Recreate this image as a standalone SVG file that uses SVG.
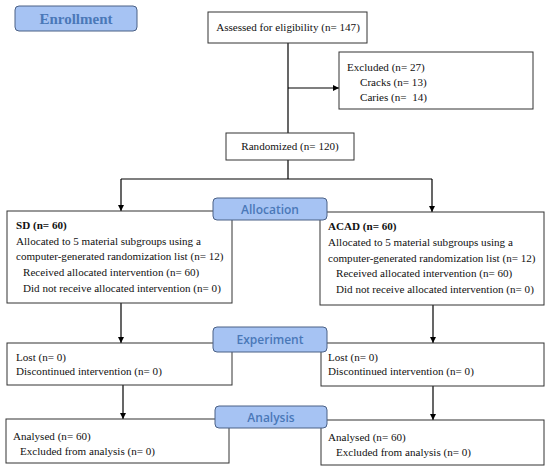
<svg xmlns="http://www.w3.org/2000/svg" width="550" height="468" viewBox="0 0 550 468">
<defs>
<marker id="ah" viewBox="0 0 10 10" refX="10" refY="5" markerWidth="6" markerHeight="6" markerUnits="userSpaceOnUse" orient="auto">
<path d="M0,0 L10,5 L0,10 z" fill="#000"/>
</marker>
<style>
.box{fill:#fff;stroke:#333;stroke-width:1}
.lab{fill:#a6c3f3;stroke:#4a6085;stroke-width:1}
.t{font-family:"Liberation Serif",serif;font-size:11.1px;fill:#111;white-space:pre}
.b{font-weight:bold}
.lt{font-family:"Open Sans","Liberation Sans",sans-serif;font-size:12px;font-weight:600;fill:#4a78b8;text-anchor:middle}
.le{font-family:"Liberation Serif",serif;font-size:15px;font-weight:bold;fill:#4a78b8;text-anchor:middle}
.c{stroke:#000;stroke-width:1.2;fill:none}
</style>
</defs>
<rect width="550" height="468" fill="#fff"/>
<g id="connectors">
<line class="c" x1="288" y1="43" x2="288" y2="133"/>
<line class="c" x1="288" y1="88" x2="339" y2="88" marker-end="url(#ah)"/>
<line class="c" x1="288" y1="160" x2="288" y2="179"/>
<line class="c" x1="121" y1="179" x2="432" y2="179"/>
<line class="c" x1="121" y1="179" x2="121" y2="211" marker-end="url(#ah)"/>
<line class="c" x1="432" y1="179" x2="432" y2="212" marker-end="url(#ah)"/>
<line class="c" x1="121" y1="303" x2="121" y2="343" marker-end="url(#ah)"/>
<line class="c" x1="433" y1="305" x2="433" y2="343" marker-end="url(#ah)"/>
<line class="c" x1="123" y1="385" x2="123" y2="419" marker-end="url(#ah)"/>
<line class="c" x1="433" y1="386" x2="433" y2="420" marker-end="url(#ah)"/>
</g>
<g id="enrollment">
<rect class="lab" x="15" y="6" width="122" height="25" rx="4"/>
<text class="le" x="76" y="24">Enrollment</text>
</g>
<g id="assessed">
<rect class="box" x="208" y="12" width="159" height="31"/>
<text class="t" x="288" y="31" text-anchor="middle">Assessed for eligibility (n= 147)</text>
</g>
<g id="excluded">
<rect class="box" x="339" y="52" width="194" height="57"/>
<text class="t" x="347" y="71">Excluded (n= 27)</text>
<text class="t" x="360" y="86">Cracks (n= 13)</text>
<text class="t" x="360" y="101">Caries (n=  14)</text>
</g>
<g id="randomized">
<rect class="box" x="226" y="133" width="128" height="27"/>
<text class="t" x="290" y="150" text-anchor="middle">Randomized (n= 120)</text>
</g>
<g id="sd">
<rect class="box" x="7" y="211" width="225" height="92"/>
<text class="t b" x="16" y="229">SD (n= 60)</text>
<text class="t" x="16" y="245">Allocated to 5 material subgroups using a</text>
<text class="t" x="16" y="260">computer-generated randomization list (n= 12)</text>
<text class="t" x="23" y="276">Received allocated intervention (n= 60)</text>
<text class="t" x="23" y="292">Did not receive allocated intervention (n= 0)</text>
</g>
<g id="acad">
<rect class="box" x="320" y="212" width="224" height="93"/>
<text class="t b" x="328" y="230">ACAD (n= 60)</text>
<text class="t" x="328" y="246">Allocated to 5 material subgroups using a</text>
<text class="t" x="328" y="262">computer-generated randomization list (n= 12)</text>
<text class="t" x="336" y="277">Received allocated intervention (n= 60)</text>
<text class="t" x="336" y="293">Did not receive allocated intervention (n= 0)</text>
</g>
<g id="allocation">
<rect class="lab" x="213" y="198" width="114" height="22" rx="4"/>
<text class="lt" x="270" y="214">Allocation</text>
</g>
<g id="lost-left">
<rect class="box" x="7" y="343" width="225" height="42"/>
<text class="t" x="16" y="361">Lost (n= 0)</text>
<text class="t" x="16" y="375">Discontinued intervention (n= 0)</text>
</g>
<g id="lost-right">
<rect class="box" x="321" y="343" width="223" height="43"/>
<text class="t" x="328" y="361">Lost (n= 0)</text>
<text class="t" x="328" y="375">Discontinued intervention (n= 0)</text>
</g>
<g id="experiment">
<rect class="lab" x="213" y="327" width="114" height="25" rx="4"/>
<text class="lt" x="270" y="344">Experiment</text>
</g>
<g id="analysed-left">
<rect class="box" x="6" y="419" width="223" height="44"/>
<text class="t" x="13" y="440">Analysed (n= 60)</text>
<text class="t" x="20" y="455">Excluded from analysis (n= 0)</text>
</g>
<g id="analysed-right">
<rect class="box" x="321" y="420" width="223" height="45"/>
<text class="t" x="328" y="441">Analysed (n= 60)</text>
<text class="t" x="336" y="456">Excluded from analysis (n= 0)</text>
</g>
<g id="analysis">
<rect class="lab" x="215" y="406" width="112" height="22" rx="4"/>
<text class="lt" x="271" y="422">Analysis</text>
</g>
</svg>
